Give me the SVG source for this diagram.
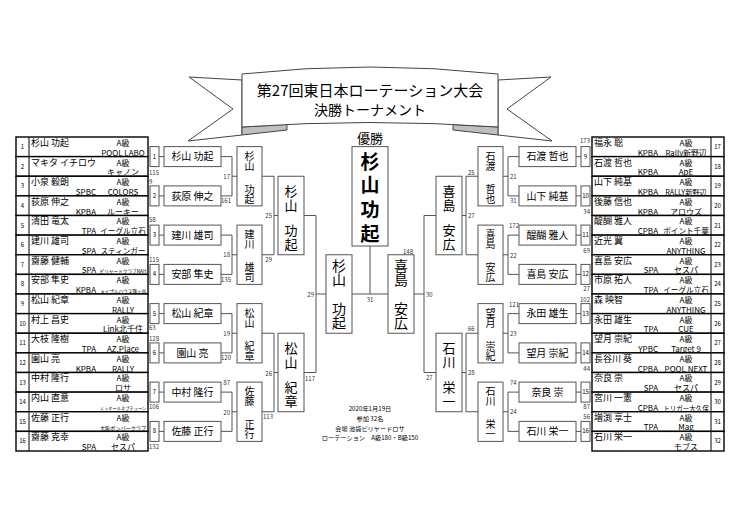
<svg xmlns="http://www.w3.org/2000/svg" width="740" height="523" viewBox="0 0 740 523">
<style>
text{font-family:"Noto Sans CJK JP","Noto Sans",sans-serif;fill:#000}
.row{fill:#fff;stroke:#000;stroke-width:1.4}
.nd{stroke:#000;stroke-width:1}
.fd{stroke:#c8c8c8;stroke-width:1}
.nm{font-size:9px}
.cl{font-size:8px;text-anchor:middle}
.tm{font-size:8px;text-anchor:middle}
.af{font-size:8px;text-anchor:end}
.no{font-size:6px;text-anchor:middle}
.sc{font-size:6px;fill:#333}
.e{text-anchor:end}
.m{text-anchor:middle}
.bx{fill:#fff;stroke:#555;stroke-width:1}
.cn{fill:none;stroke:#555;stroke-width:1}
.n1{font-size:10px;text-anchor:middle}
.vt{writing-mode:vertical-rl;text-anchor:middle}
.v2{font-size:10px}
.v3{font-size:13px;letter-spacing:1px}
.v4{font-size:14px}
.v5{font-size:19px;font-weight:bold;letter-spacing:4.5px}
.rb{fill:#fff;stroke:#444;stroke-width:1}
.fold{fill:#bfbfbf;stroke:#444;stroke-width:1}
.ft{font-size:6.2px;text-anchor:middle}
</style>
<rect width="740" height="523" fill="#fff"/>

<g id="banner">
<path class="rb" d="M242,80 L189,77 L233,109 L188,141 L242,135 Z"/>
<path class="rb" d="M498,80 L551,77 L507,109 L552,141 L498,135 Z"/>
<path class="fold" d="M242,127 L242,135 L287,130 L287,124.4 Z"/>
<path class="fold" d="M498,127 L498,135 L453,130 L453,124.4 Z"/>
<path class="rb" d="M242,74 Q370,60 498,74 L498,127 Q370,118 242,127 Z"/>
<text x="370" y="95.7" font-size="15" text-anchor="middle">第27回東日本ローテーション大会</text>
<text x="370" y="114.5" font-size="14" text-anchor="middle">決勝トーナメント</text>
</g>
<text x="370" y="142.5" font-size="13" text-anchor="middle">優勝</text>

<g id="left-table">
<line class="fd" x1="98" y1="137" x2="98" y2="451"/>
<g id="L1"><rect class="row" x="16" y="137" width="132" height="19.625"/><line class="nd" x1="29" y1="137" x2="29" y2="156.6"/><text class="no" x="22.5" y="149">1</text><text class="nm" x="31" y="145.9">杉山 功起</text><text class="cl" x="123" y="145.9">A級</text><text class="tm" x="123" y="155.6">POOL LABO</text></g>
<g id="L2"><rect class="row" x="16" y="156.625" width="132" height="19.625"/><line class="nd" x1="29" y1="156.6" x2="29" y2="176.25"/><text class="no" x="22.5" y="168.6">2</text><text class="nm" x="31" y="165.5">マキタ イチロウ</text><text class="cl" x="123" y="165.5">A級</text><text class="tm" x="123" y="175.2">キャノン</text></g>
<g id="L3"><rect class="row" x="16" y="176.25" width="132" height="19.625"/><line class="nd" x1="29" y1="176.25" x2="29" y2="195.9"/><text class="no" x="22.5" y="188.25">3</text><text class="nm" x="31" y="185.15">小泉 毅朗</text><text class="cl" x="123" y="185.15">A級</text><text class="af" x="96" y="194.85">SPBC</text><text class="tm" x="123" y="194.85">COLORS</text></g>
<g id="L4"><rect class="row" x="16" y="195.875" width="132" height="19.625"/><line class="nd" x1="29" y1="195.9" x2="29" y2="215.5"/><text class="no" x="22.5" y="207.9">4</text><text class="nm" x="31" y="204.8">荻原 伸之</text><text class="cl" x="123" y="204.8">A級</text><text class="af" x="96" y="214.5">KPBA</text><text class="tm" x="123" y="214.5">ルーキー</text></g>
<g id="L5"><rect class="row" x="16" y="215.5" width="132" height="19.625"/><line class="nd" x1="29" y1="215.5" x2="29" y2="235.1"/><text class="no" x="22.5" y="227.5">5</text><text class="nm" x="31" y="224.4">清田 竜太</text><text class="cl" x="123" y="224.4">A級</text><text class="af" x="96" y="234.1">TPA</text><text class="tm" x="123" y="234.1" style="font-size:7.6px">イーグル立石</text></g>
<g id="L6"><rect class="row" x="16" y="235.125" width="132" height="19.625"/><line class="nd" x1="29" y1="235.1" x2="29" y2="254.75"/><text class="no" x="22.5" y="247.1">6</text><text class="nm" x="31" y="244">建川 雄司</text><text class="cl" x="123" y="244">A級</text><text class="af" x="96" y="253.7">SPA</text><text class="tm" x="123" y="253.7" style="font-size:7.6px">スティンガー</text></g>
<g id="L7"><rect class="row" x="16" y="254.75" width="132" height="19.625"/><line class="nd" x1="29" y1="254.75" x2="29" y2="274.4"/><text class="no" x="22.5" y="266.75">7</text><text class="nm" x="31" y="263.65">齋藤 健輔</text><text class="cl" x="123" y="263.65">A級</text><text class="af" x="96" y="273.35">SPA</text><text class="tm" transform="translate(123,272.9) scale(0.58)" style="font-size:8px">ビリヤードクラブNAH</text></g>
<g id="L8"><rect class="row" x="16" y="274.375" width="132" height="19.625"/><line class="nd" x1="29" y1="274.4" x2="29" y2="294"/><text class="no" x="22.5" y="286.4">8</text><text class="nm" x="31" y="283.3">安部 隼史</text><text class="cl" x="123" y="283.3">A級</text><text class="af" x="96" y="293">KPBA</text><text class="tm" transform="translate(123,292.5) scale(0.58)" style="font-size:8px">メイプルハウス鎌ヶ谷</text></g>
<g id="L9"><rect class="row" x="16" y="294" width="132" height="19.625"/><line class="nd" x1="29" y1="294" x2="29" y2="313.6"/><text class="no" x="22.5" y="306">9</text><text class="nm" x="31" y="302.9">松山 紀章</text><text class="cl" x="123" y="302.9">A級</text><text class="tm" x="123" y="312.6">RALLY</text></g>
<g id="L10"><rect class="row" x="16" y="313.625" width="132" height="19.625"/><line class="nd" x1="29" y1="313.6" x2="29" y2="333.25"/><text class="no" x="22.5" y="325.6">10</text><text class="nm" x="31" y="322.5">村上 昌史</text><text class="cl" x="123" y="322.5">A級</text><text class="tm" x="123" y="332.2">Link北千住</text></g>
<g id="L11"><rect class="row" x="16" y="333.25" width="132" height="19.625"/><line class="nd" x1="29" y1="333.25" x2="29" y2="352.9"/><text class="no" x="22.5" y="345.25">11</text><text class="nm" x="31" y="342.15">大枝 隆樹</text><text class="cl" x="123" y="342.15">A級</text><text class="af" x="96" y="351.85">TPA</text><text class="tm" x="123" y="351.85">AZ.Place</text></g>
<g id="L12"><rect class="row" x="16" y="352.875" width="132" height="19.625"/><line class="nd" x1="29" y1="352.9" x2="29" y2="372.5"/><text class="no" x="22.5" y="364.9">12</text><text class="nm" x="31" y="361.8">園山 亮</text><text class="cl" x="123" y="361.8">A級</text><text class="af" x="96" y="371.5">KPBA</text><text class="tm" x="123" y="371.5">RALLY</text></g>
<g id="L13"><rect class="row" x="16" y="372.5" width="132" height="19.625"/><line class="nd" x1="29" y1="372.5" x2="29" y2="392.1"/><text class="no" x="22.5" y="384.5">13</text><text class="nm" x="31" y="381.4">中村 隆行</text><text class="cl" x="123" y="381.4">A級</text><text class="tm" x="123" y="391.1">ロサ</text></g>
<g id="L14"><rect class="row" x="16" y="392.125" width="132" height="19.625"/><line class="nd" x1="29" y1="392.1" x2="29" y2="411.75"/><text class="no" x="22.5" y="404.1">14</text><text class="nm" x="31" y="401">内山 直意</text><text class="cl" x="123" y="401">A級</text><text class="tm" transform="translate(123,409.9) scale(0.53)" style="font-size:8px">ミッキールネプチューン</text></g>
<g id="L15"><rect class="row" x="16" y="411.75" width="132" height="19.625"/><line class="nd" x1="29" y1="411.75" x2="29" y2="431.4"/><text class="no" x="22.5" y="423.75">15</text><text class="nm" x="31" y="420.65">佐藤 正行</text><text class="cl" x="123" y="420.65">A級</text><text class="tm" transform="translate(123,429.7) scale(0.64)" style="font-size:8px">大阪ボンバークラブ</text></g>
<g id="L16"><rect class="row" x="16" y="431.375" width="132" height="19.625"/><line class="nd" x1="29" y1="431.4" x2="29" y2="451"/><text class="no" x="22.5" y="443.4">16</text><text class="nm" x="31" y="440.3">齋藤 克幸</text><text class="cl" x="123" y="440.3">A級</text><text class="af" x="96" y="450">SPA</text><text class="tm" x="123" y="450">セスパ</text></g>
</g>

<g id="right-table">
<line class="fd" x1="661" y1="137" x2="661" y2="451"/>
<g id="R17"><rect class="row" x="592" y="137" width="132" height="19.625"/><line class="nd" x1="711" y1="137" x2="711" y2="156.6"/><text class="no" x="717.5" y="149">17</text><text class="nm" x="594" y="145.9">福永 聡</text><text class="cl" x="686" y="145.9">A級</text><text class="af" x="658" y="155.6">KPBA</text><text class="tm" x="686" y="155.6" style="font-size:7.8px">Rally新野辺</text></g>
<g id="R18"><rect class="row" x="592" y="156.625" width="132" height="19.625"/><line class="nd" x1="711" y1="156.6" x2="711" y2="176.25"/><text class="no" x="717.5" y="168.6">18</text><text class="nm" x="594" y="165.5">石渡 哲也</text><text class="cl" x="686" y="165.5">A級</text><text class="af" x="658" y="175.2">KPBA</text><text class="tm" x="686" y="175.2">ApE</text></g>
<g id="R19"><rect class="row" x="592" y="176.25" width="132" height="19.625"/><line class="nd" x1="711" y1="176.25" x2="711" y2="195.9"/><text class="no" x="717.5" y="188.25">19</text><text class="nm" x="594" y="185.15">山下 純基</text><text class="cl" x="686" y="185.15">A級</text><text class="af" x="658" y="194.85">KPBA</text><text class="tm" x="686" y="194.85" style="font-size:7.2px">RALLY新野辺</text></g>
<g id="R20"><rect class="row" x="592" y="195.875" width="132" height="19.625"/><line class="nd" x1="711" y1="195.9" x2="711" y2="215.5"/><text class="no" x="717.5" y="207.9">20</text><text class="nm" x="594" y="204.8">後藤 信也</text><text class="cl" x="686" y="204.8">A級</text><text class="af" x="658" y="214.5">KPBA</text><text class="tm" x="686" y="214.5">アロウズ</text></g>
<g id="R21"><rect class="row" x="592" y="215.5" width="132" height="19.625"/><line class="nd" x1="711" y1="215.5" x2="711" y2="235.1"/><text class="no" x="717.5" y="227.5">21</text><text class="nm" x="594" y="224.4">醍醐 雅人</text><text class="cl" x="686" y="224.4">A級</text><text class="af" x="658" y="234.1">CPBA</text><text class="tm" x="686" y="234.1" style="font-size:7.6px">ポイント千葉</text></g>
<g id="R22"><rect class="row" x="592" y="235.125" width="132" height="19.625"/><line class="nd" x1="711" y1="235.1" x2="711" y2="254.75"/><text class="no" x="717.5" y="247.1">22</text><text class="nm" x="594" y="244">近光 翼</text><text class="cl" x="686" y="244">A級</text><text class="tm" x="686" y="253.7">ANYTHING</text></g>
<g id="R23"><rect class="row" x="592" y="254.75" width="132" height="19.625"/><line class="nd" x1="711" y1="254.75" x2="711" y2="274.4"/><text class="no" x="717.5" y="266.75">23</text><text class="nm" x="594" y="263.65">喜島 安広</text><text class="cl" x="686" y="263.65">A級</text><text class="af" x="658" y="273.35">SPA</text><text class="tm" x="686" y="273.35">セスパ</text></g>
<g id="R24"><rect class="row" x="592" y="274.375" width="132" height="19.625"/><line class="nd" x1="711" y1="274.4" x2="711" y2="294"/><text class="no" x="717.5" y="286.4">24</text><text class="nm" x="594" y="283.3">市原 拓人</text><text class="cl" x="686" y="283.3">A級</text><text class="af" x="658" y="293">TPA</text><text class="tm" x="686" y="293" style="font-size:7.6px">イーグル立石</text></g>
<g id="R25"><rect class="row" x="592" y="294" width="132" height="19.625"/><line class="nd" x1="711" y1="294" x2="711" y2="313.6"/><text class="no" x="717.5" y="306">25</text><text class="nm" x="594" y="302.9">森 映智</text><text class="cl" x="686" y="302.9">A級</text><text class="tm" x="686" y="312.6">ANYTHING</text></g>
<g id="R26"><rect class="row" x="592" y="313.625" width="132" height="19.625"/><line class="nd" x1="711" y1="313.6" x2="711" y2="333.25"/><text class="no" x="717.5" y="325.6">26</text><text class="nm" x="594" y="322.5">永田 雄生</text><text class="cl" x="686" y="322.5">A級</text><text class="af" x="658" y="332.2">TPA</text><text class="tm" x="686" y="332.2">CUE</text></g>
<g id="R27"><rect class="row" x="592" y="333.25" width="132" height="19.625"/><line class="nd" x1="711" y1="333.25" x2="711" y2="352.9"/><text class="no" x="717.5" y="345.25">27</text><text class="nm" x="594" y="342.15">望月 崇紀</text><text class="cl" x="686" y="342.15">A級</text><text class="af" x="658" y="351.85">YPBC</text><text class="tm" x="686" y="351.85">Target 9</text></g>
<g id="R28"><rect class="row" x="592" y="352.875" width="132" height="19.625"/><line class="nd" x1="711" y1="352.9" x2="711" y2="372.5"/><text class="no" x="717.5" y="364.9">28</text><text class="nm" x="594" y="361.8">長谷川 葵</text><text class="cl" x="686" y="361.8">A級</text><text class="af" x="658" y="371.5">CPBA</text><text class="tm" x="686" y="371.5">POOL NEXT</text></g>
<g id="R29"><rect class="row" x="592" y="372.5" width="132" height="19.625"/><line class="nd" x1="711" y1="372.5" x2="711" y2="392.1"/><text class="no" x="717.5" y="384.5">29</text><text class="nm" x="594" y="381.4">奈良 崇</text><text class="cl" x="686" y="381.4">A級</text><text class="af" x="658" y="391.1">SPA</text><text class="tm" x="686" y="391.1">セスパ</text></g>
<g id="R30"><rect class="row" x="592" y="392.125" width="132" height="19.625"/><line class="nd" x1="711" y1="392.1" x2="711" y2="411.75"/><text class="no" x="717.5" y="404.1">30</text><text class="nm" x="594" y="401">宮川 一憲</text><text class="cl" x="686" y="401">A級</text><text class="af" x="658" y="410.7">CPBA</text><text class="tm" x="686" y="410.5" style="font-size:6.5px">トリガー大久保</text></g>
<g id="R31"><rect class="row" x="592" y="411.75" width="132" height="19.625"/><line class="nd" x1="711" y1="411.75" x2="711" y2="431.4"/><text class="no" x="717.5" y="423.75">31</text><text class="nm" x="594" y="420.65">増渕 享士</text><text class="cl" x="686" y="420.65">A級</text><text class="af" x="658" y="430.35">TPA</text><text class="tm" x="686" y="430.35">Mag</text></g>
<g id="R32"><rect class="row" x="592" y="431.375" width="132" height="19.625"/><line class="nd" x1="711" y1="431.4" x2="711" y2="451"/><text class="no" x="717.5" y="443.4">32</text><text class="nm" x="594" y="440.3">石川 栄一</text><text class="cl" x="686" y="440.3">A級</text><text class="tm" x="686" y="450">モブス</text></g>
</g>

<g id="connectors">
<path class="cn" d="M159,156.6H164 M159,195.9H164 M159,235.1H164 M159,274.4H164 M159,313.6H164 M159,352.9H164 M159,392.1H164 M159,431.4H164
M221,156.6H232V195.9H221 M232,176.25H237 M221,235.1H232V274.4H221 M232,254.75H237 M221,313.6H232V352.9H221 M232,333.25H237 M221,392.1H232V431.4H221 M232,411.75H237
M262,176.25H274V254.75H262 M274,215.5H278 M262,333.25H274V411.75H262 M274,372.5H278
M304,215.5H316V372.5H304 M316,294H326
M352,294H388 M370,294V246
M581,156.6H576 M581,195.9H576 M581,235.1H576 M581,274.4H576 M581,313.6H576 M581,352.9H576 M581,392.1H576 M581,431.4H576
M519,156.6H508V195.9H519 M508,176.25H503 M519,235.1H508V274.4H519 M508,254.75H503 M519,313.6H508V352.9H519 M508,333.25H503 M519,392.1H508V431.4H519 M508,411.75H503
M478,176.25H466V254.75H478 M466,215.5H462 M478,333.25H466V411.75H478 M466,372.5H462
M436,215.5H424V372.5H436 M424,294H414"/>
</g>

<g id="scores">
<text class="sc" x="149" y="175">115</text><text class="sc" x="149" y="184">9</text><text class="sc" x="149" y="222">58</text><text class="sc" x="149" y="262">115</text><text class="sc" x="149" y="330">63</text><text class="sc" x="149" y="341">128</text><text class="sc" x="149" y="409">106</text><text class="sc" x="149" y="449">132</text>
<text class="sc e" x="230" y="179">17</text><text class="sc e" x="231" y="203">161</text><text class="sc e" x="230" y="257">18</text><text class="sc e" x="231" y="282">135</text><text class="sc e" x="230" y="336">19</text><text class="sc e" x="231" y="360">120</text><text class="sc e" x="230" y="385">87</text><text class="sc e" x="230" y="415">20</text>
<text class="sc e" x="272" y="218">25</text><text class="sc e" x="272" y="262">29</text><text class="sc e" x="272" y="376">26</text><text class="sc e" x="273" y="419">113</text>
<text class="sc e" x="314" y="297">29</text><text class="sc e" x="315" y="381">117</text>
<text class="sc m" x="370" y="302">31</text><text class="sc" x="403" y="254">148</text>
<text class="sc" x="426" y="297">30</text><text class="sc" x="426" y="380">27</text>
<text class="sc" x="468" y="175">25</text><text class="sc" x="468" y="218">27</text><text class="sc" x="468" y="331">66</text><text class="sc" x="468" y="375">28</text>
<text class="sc" x="510" y="179">21</text><text class="sc" x="510" y="203">31</text><text class="sc" x="509" y="228">172</text><text class="sc" x="510" y="258">22</text><text class="sc" x="509" y="307">121</text><text class="sc" x="510" y="336">23</text><text class="sc" x="510" y="385">74</text><text class="sc" x="510" y="414">24</text>
<text class="sc e" x="590" y="143">173</text><text class="sc e" x="590" y="214">34</text><text class="sc e" x="590" y="253">69</text><text class="sc e" x="590" y="291">27</text><text class="sc e" x="590" y="302">102</text><text class="sc e" x="590" y="371">44</text><text class="sc e" x="590" y="409">87</text><text class="sc e" x="590" y="419">56</text>
</g>

<g id="seeds-left">
<g id="s1"><rect class="bx" x="150" y="146.6" width="9" height="20"/><text class="no" x="154.5" y="158.6">1</text></g>
<g id="s2"><rect class="bx" x="150" y="185.9" width="9" height="20"/><text class="no" x="154.5" y="197.9">2</text></g>
<g id="s3"><rect class="bx" x="150" y="225.1" width="9" height="20"/><text class="no" x="154.5" y="237.1">3</text></g>
<g id="s4"><rect class="bx" x="150" y="264.4" width="9" height="20"/><text class="no" x="154.5" y="276.4">4</text></g>
<g id="s5"><rect class="bx" x="150" y="303.6" width="9" height="20"/><text class="no" x="154.5" y="315.6">5</text></g>
<g id="s6"><rect class="bx" x="150" y="342.9" width="9" height="20"/><text class="no" x="154.5" y="354.9">6</text></g>
<g id="s7"><rect class="bx" x="150" y="382.1" width="9" height="20"/><text class="no" x="154.5" y="394.1">7</text></g>
<g id="s8"><rect class="bx" x="150" y="421.4" width="9" height="20"/><text class="no" x="154.5" y="433.4">8</text></g>
</g>
<g id="seeds-right">
<g id="s9"><rect class="bx" x="581" y="146.6" width="9" height="20"/><text class="no" x="585.5" y="158.6">9</text></g>
<g id="s10"><rect class="bx" x="581" y="185.9" width="9" height="20"/><text class="no" x="585.5" y="197.9">10</text></g>
<g id="s11"><rect class="bx" x="581" y="225.1" width="9" height="20"/><text class="no" x="585.5" y="237.1">11</text></g>
<g id="s12"><rect class="bx" x="581" y="264.4" width="9" height="20"/><text class="no" x="585.5" y="276.4">12</text></g>
<g id="s13"><rect class="bx" x="581" y="303.6" width="9" height="20"/><text class="no" x="585.5" y="315.6">13</text></g>
<g id="s14"><rect class="bx" x="581" y="342.9" width="9" height="20"/><text class="no" x="585.5" y="354.9">14</text></g>
<g id="s15"><rect class="bx" x="581" y="382.1" width="9" height="20"/><text class="no" x="585.5" y="394.1">15</text></g>
<g id="s16"><rect class="bx" x="581" y="421.4" width="9" height="20"/><text class="no" x="585.5" y="433.4">16</text></g>
</g>

<g id="r1-left">
<g id="m1"><rect class="bx" x="164" y="146.6" width="57" height="20"/><text class="n1" x="192.5" y="160.3">杉山 功起</text></g>
<g id="m2"><rect class="bx" x="164" y="185.9" width="57" height="20"/><text class="n1" x="192.5" y="199.6">荻原 伸之</text></g>
<g id="m3"><rect class="bx" x="164" y="225.1" width="57" height="20"/><text class="n1" x="192.5" y="238.8">建川 雄司</text></g>
<g id="m4"><rect class="bx" x="164" y="264.4" width="57" height="20"/><text class="n1" x="192.5" y="278.1">安部 隼史</text></g>
<g id="m5"><rect class="bx" x="164" y="303.6" width="57" height="20"/><text class="n1" x="192.5" y="317.3">松山 紀章</text></g>
<g id="m6"><rect class="bx" x="164" y="342.9" width="57" height="20"/><text class="n1" x="192.5" y="356.6">園山 亮</text></g>
<g id="m7"><rect class="bx" x="164" y="382.1" width="57" height="20"/><text class="n1" x="192.5" y="395.8">中村 隆行</text></g>
<g id="m8"><rect class="bx" x="164" y="421.4" width="57" height="20"/><text class="n1" x="192.5" y="435.1">佐藤 正行</text></g>
</g>
<g id="r1-right">
<g id="m9"><rect class="bx" x="519" y="146.6" width="57" height="20"/><text class="n1" x="547.5" y="160.3">石渡 哲也</text></g>
<g id="m10"><rect class="bx" x="519" y="185.9" width="57" height="20"/><text class="n1" x="547.5" y="199.6">山下 純基</text></g>
<g id="m11"><rect class="bx" x="519" y="225.1" width="57" height="20"/><text class="n1" x="547.5" y="238.8">醍醐 雅人</text></g>
<g id="m12"><rect class="bx" x="519" y="264.4" width="57" height="20"/><text class="n1" x="547.5" y="278.1">喜島 安広</text></g>
<g id="m13"><rect class="bx" x="519" y="303.6" width="57" height="20"/><text class="n1" x="547.5" y="317.3">永田 雄生</text></g>
<g id="m14"><rect class="bx" x="519" y="342.9" width="57" height="20"/><text class="n1" x="547.5" y="356.6">望月 崇紀</text></g>
<g id="m15"><rect class="bx" x="519" y="382.1" width="57" height="20"/><text class="n1" x="547.5" y="395.8">奈良 崇</text></g>
<g id="m16"><rect class="bx" x="519" y="421.4" width="57" height="20"/><text class="n1" x="547.5" y="435.1">石川 栄一</text></g>
</g>

<g id="r2-left">
<g id="m17"><rect class="bx" x="237" y="146.6" width="25" height="59.3"/><text class="vt v2" x="249.5" y="161.1">杉山</text><text class="vt v2" x="249.5" y="194.1">功起</text></g>
<g id="m18"><rect class="bx" x="237" y="225.1" width="25" height="59.3"/><text class="vt v2" x="249.5" y="239.6">建川</text><text class="vt v2" x="249.5" y="272.6">雄司</text></g>
<g id="m19"><rect class="bx" x="237" y="303.6" width="25" height="59.3"/><text class="vt v2" x="249.5" y="318.1">松山</text><text class="vt v2" x="249.5" y="351.1">紀章</text></g>
<g id="m20"><rect class="bx" x="237" y="382.1" width="25" height="59.3"/><text class="vt v2" x="249.5" y="396.6">佐藤</text><text class="vt v2" x="249.5" y="429.6">正行</text></g>
</g>
<g id="r2-right">
<g id="m21"><rect class="bx" x="478" y="146.6" width="25" height="59.3"/><text class="vt v2" x="490.5" y="161.1">石渡</text><text class="vt v2" x="490.5" y="194.1">哲也</text></g>
<g id="m22"><rect class="bx" x="478" y="225.1" width="25" height="59.3"/><text class="vt v2" x="490.5" y="239.6">喜島</text><text class="vt v2" x="490.5" y="272.6">安広</text></g>
<g id="m23"><rect class="bx" x="478" y="303.6" width="25" height="59.3"/><text class="vt v2" x="490.5" y="318.1">望月</text><text class="vt v2" x="490.5" y="351.1">崇紀</text></g>
<g id="m24"><rect class="bx" x="478" y="382.1" width="25" height="59.3"/><text class="vt v2" x="490.5" y="396.6">石川</text><text class="vt v2" x="490.5" y="429.6">栄一</text></g>
</g>

<g id="r3">
<g id="m25"><rect class="bx" x="278" y="176.25" width="26" height="78.5"/><text class="vt v3" x="291" y="198.25">杉山</text><text class="vt v3" x="291" y="237.25">功起</text></g>
<g id="m26"><rect class="bx" x="278" y="333.25" width="26" height="78.5"/><text class="vt v3" x="291" y="355.25">松山</text><text class="vt v3" x="291" y="394.25">紀章</text></g>
<g id="m27"><rect class="bx" x="436" y="176.25" width="26" height="78.5"/><text class="vt v3" x="449" y="198.25">喜島</text><text class="vt v3" x="449" y="237.25">安広</text></g>
<g id="m28"><rect class="bx" x="436" y="333.25" width="26" height="78.5"/><text class="vt v3" x="449" y="355.25">石川</text><text class="vt v3" x="449" y="394.25">栄一</text></g>
</g>

<g id="semis">
<g id="m29"><rect class="bx" x="326" y="254.75" width="26" height="78.5"/><text class="vt v4" x="339" y="272.75">杉山</text><text class="vt v4" x="339" y="315.75">功起</text></g>
<g id="m30"><rect class="bx" x="388" y="254.75" width="26" height="78.5"/><text class="vt v4" x="401" y="272.75">喜島</text><text class="vt v4" x="401" y="315.75">安広</text></g>
</g>

<g id="champion"><rect class="bx" x="352" y="146.6" width="36" height="99.4"/><text class="vt v5" x="370" y="175.6">杉山</text><text class="vt v5" x="370" y="223.8">功起</text></g>

<g id="footer">
<text class="ft" x="370" y="411">2020年1月19日</text>
<text class="ft" x="370" y="421">参加 32名</text>
<text class="ft" x="370" y="431">会場 池袋ビリヤードロサ</text>
<text class="ft" x="370" y="440">ローテーション　A級180・B級150</text>
</g>
</svg>
